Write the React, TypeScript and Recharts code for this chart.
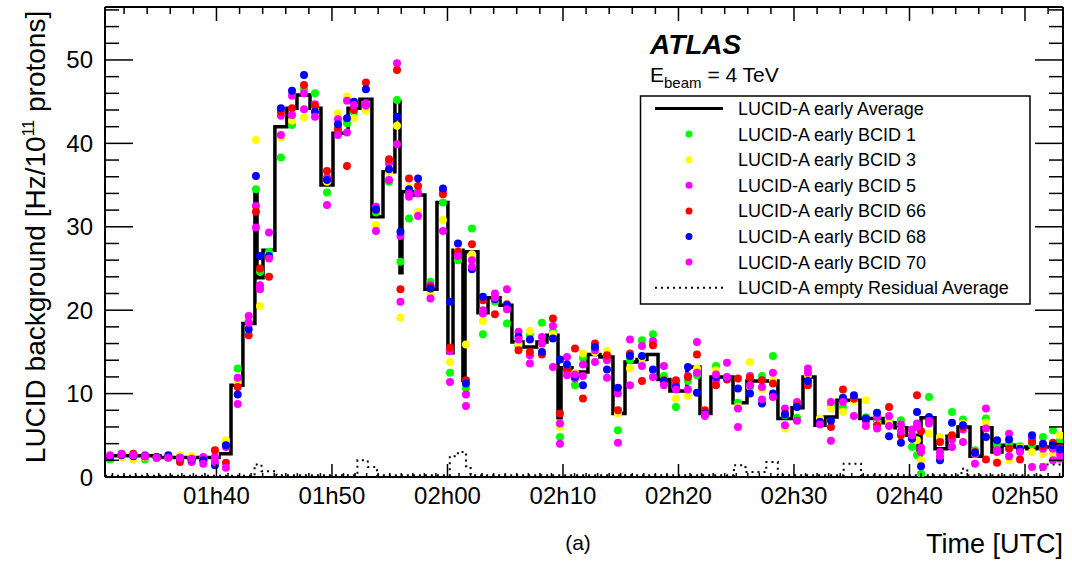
import React from 'react';
import { ComposedChart, Line, Scatter, XAxis, YAxis } from 'recharts';

// time axis in minutes after 01h00 UTC
const dotTimes = [
  30.78, 31.79, 32.8, 33.81, 34.82, 35.83, 36.84, 37.85, 38.86, 39.87,
  40.82, 41.84, 42.79, 43.42, 43.77, 44.55, 45.58, 46.54, 47.58, 48.53,
  49.57, 50.52, 51.3, 51.9, 52.94, 53.81, 54.94, 55.63, 55.93, 56.67,
  57.45, 58.53, 59.61, 60.22, 60.91, 61.6, 62.12, 63.07, 64.11, 65.15,
  66.15, 67.14, 68.18, 69.13, 69.74, 70.35, 71.04, 71.73, 72.77, 73.81,
  74.76, 75.8, 76.84, 77.79, 78.74, 79.78, 80.82, 81.6, 82.29, 83.25,
  84.2, 85.15, 86.19, 87.23, 88.18, 89.22, 90.26, 91.21, 92.25, 93.2,
  94.24, 95.19, 96.23, 97.19, 98.23, 99.26, 100.22, 100.65, 101.0, 101.69,
  102.64, 103.68, 104.63, 105.67, 106.62, 107.58, 108.62, 109.57, 110.61, 111.56,
  112.42, 113.03,
];

const bcid1 = [
  2.1, 2.5, 2.4, 2.1, 2.3, 2.3, 2.5, 2.2, 2.2, 3.1,
  3.9, 13.0, 18.8, 34.5, 24.6, 27.0, 38.3, 42.2, 46.5, 46.0,
  34.1, 42.1, 42.4, 43.7, 44.5, 31.7, 35.4, 45.2, 25.8, 31.0,
  34.3, 23.4, 32.9, 12.5, 26.0, 10.6, 29.8, 17.1, 21.0, 18.4,
  15.7, 17.0, 18.5, 17.4, 4.8, 13.2, 11.0, 14.3, 15.3, 14.5,
  5.6, 14.0, 16.4, 17.1, 12.1, 8.4, 11.5, 12.2, 7.7, 13.3,
  12.0, 8.9, 10.8, 12.1, 14.5, 7.4, 7.1, 11.4, 6.8, 8.6,
  8.4, 9.6, 7.15, 6.6, 6.6, 6.8, 3.6, 2.6, 0.4, 9.6,
  4.5, 7.8, 6.9, 3.2, 7.0, 4.0, 4.0, 3.7, 3.9, 4.8,
  5.6, 4.4,
];

const bcid3 = [
  2.4, 2.3, 2.1, 2.4, 2.3, 2.3, 2.6, 2.5, 2.2, 2.8,
  4.4, 11.4, 19.2, 40.4, 20.5, 26.3, 40.7, 42.7, 43.1, 44.1,
  35.4, 43.6, 45.6, 43.0, 43.9, 30.2, 36.5, 42.1, 19.1, 34.8,
  31.8, 22.1, 30.8, 13.8, 27.2, 15.9, 26.7, 18.7, 21.7, 20.4,
  16.0, 17.5, 15.8, 17.1, 6.0, 12.4, 12.5, 14.8, 15.0, 15.1,
  7.6, 13.0, 14.3, 16.0, 11.3, 9.4, 9.7, 13.0, 7.8, 12.8,
  11.8, 8.4, 13.8, 10.5, 11.6, 5.8, 8.75, 12.2, 7.0, 8.2,
  7.8, 9.1, 9.2, 6.3, 6.4, 5.7, 5.2, 4.4, 2.0, 5.2,
  4.8, 4.9, 6.4, 2.75, 6.5, 1.8, 2.0, 3.5, 3.0, 2.75,
  2.8, 5.0,
];

const bcid5 = [
  2.5, 2.8, 2.6, 2.6, 2.4, 2.4, 2.2, 1.8, 2.4, 2.4,
  3.6, 11.9, 19.3, 32.5, 23.0, 29.3, 43.3, 45.7, 46.0, 44.7,
  35.9, 42.9, 45.1, 44.9, 44.8, 32.4, 37.6, 49.6, 28.9, 33.6,
  34.0, 23.0, 34.3, 15.1, 26.7, 9.9, 26.0, 19.6, 22.0, 22.5,
  17.4, 14.6, 16.8, 18.1, 6.4, 14.4, 11.8, 13.5, 15.2, 14.0,
  10.0, 16.5, 15.7, 16.3, 13.3, 11.2, 12.1, 16.2, 7.3, 11.6,
  13.7, 8.2, 12.1, 10.8, 12.5, 8.2, 9.0, 13.0, 6.5, 9.0,
  9.4, 9.4, 6.7, 7.2, 7.3, 6.3, 5.7, 6.4, 3.5, 6.4,
  3.0, 4.5, 5.7, 2.8, 8.2, 3.0, 5.2, 3.15, 4.6, 3.4,
  3.4, 2.8,
];

const bcid66 = [
  2.4, 2.7, 2.8, 2.5, 2.3, 2.4, 1.8, 2.1, 2.0, 3.2,
  1.7, 10.8, 17.0, 31.8, 25.0, 24.0, 43.8, 44.2, 47.0, 44.5,
  36.7, 41.7, 37.3, 44.0, 47.3, 32.0, 38.1, 48.8, 22.5, 35.8,
  34.9, 22.8, 33.9, 15.5, 27.0, 11.6, 27.9, 21.2, 19.5, 20.7,
  15.2, 15.0, 14.7, 19.0, 7.6, 12.8, 15.4, 9.4, 16.0, 14.6,
  8.0, 14.8, 11.5, 15.8, 11.6, 11.6, 12.0, 14.7, 8.0, 11.0,
  11.7, 11.8, 11.9, 11.6, 11.2, 7.6, 8.5, 11.0, 6.6, 6.0,
  10.5, 9.4, 6.9, 6.2, 8.4, 5.0, 4.8, 9.8, 5.5, 7.0,
  4.2, 5.0, 6.0, 3.0, 2.1, 1.7, 3.4, 2.1, 4.2, 3.7,
  4.1, 3.6,
];

const bcid68 = [
  2.4, 2.6, 2.5, 2.5, 2.4, 2.6, 2.3, 2.1, 2.0, 1.4,
  3.8, 9.9, 17.7, 36.1, 26.5, 26.5, 44.2, 46.3, 48.2, 43.8,
  35.6, 42.3, 43.0, 45.0, 46.5, 32.1, 36.9, 43.2, 29.4, 34.5,
  35.8, 22.6, 34.6, 21.0, 28.0, 11.2, 24.9, 21.6, 21.3, 20.6,
  16.8, 16.5, 15.0, 16.6, 14.1, 13.5, 12.0, 11.0, 15.6, 12.9,
  10.7, 14.5, 14.5, 12.9, 11.5, 10.8, 13.2, 10.1, 7.6, 12.0,
  11.9, 10.6, 10.0, 8.8, 10.0, 7.5, 8.4, 11.5, 6.6, 6.75,
  9.5, 9.8, 7.0, 7.7, 4.9, 4.1, 4.6, 7.8, 1.3, 7.2,
  2.0, 6.5, 6.2, 2.9, 4.8, 4.4, 4.5, 3.4, 5.0, 4.0,
  3.8, 3.3,
];

const bcid70 = [
  2.6, 2.7, 2.6, 2.5, 2.3, 2.3, 2.3, 2.2, 1.6, 1.8,
  1.1, 8.75, 18.5, 29.9, 22.5, 26.2, 41.0, 43.4, 44.1, 43.2,
  32.6, 41.0, 41.3, 44.6, 44.5, 29.5, 35.6, 39.9, 21.0, 34.0,
  31.3, 21.4, 29.5, 11.4, 26.5, 8.5, 25.2, 20.0, 21.5, 20.1,
  16.5, 13.6, 16.0, 13.2, 4.0, 12.2, 12.3, 12.1, 13.8, 11.9,
  4.1, 11.0, 13.3, 12.0, 11.0, 10.5, 10.5, 12.5, 7.5, 12.3,
  12.0, 6.0, 11.0, 9.3, 9.6, 6.2, 6.75, 12.5, 6.3, 4.35,
  9.0, 7.3, 6.1, 5.8, 6.1, 5.5, 5.0, 6.0, 3.0, 6.7,
  2.5, 3.6, 4.2, 1.6, 5.8, 3.2, 2.5, 3.0, 1.2, 1.2,
  2.0, 2.2,
];

// early average histogram: bin edges (minutes) and contents
const avgEdges = [
  30.35, 35.11, 40.22, 41.26, 42.29, 43.33, 43.51, 44.03, 45.06, 46.1,
  46.97, 48.1, 49.05, 50.09, 51.39, 52.42, 53.46, 54.42, 55.45, 55.89,
  56.06, 57.1, 58.05, 59.09, 60.04, 60.48, 61.34, 61.52, 62.64, 63.51,
  64.55, 65.58, 66.54, 67.75, 68.61, 69.57, 69.83, 70.78, 72.16, 73.2,
  74.33, 75.37, 76.41, 77.27, 78.23, 79.26, 80.74, 81.86, 82.81, 84.72,
  85.93, 88.61, 89.83, 90.78, 91.82, 92.68, 93.72, 95.71, 97.71, 98.74,
  99.78, 100.74, 101.0, 102.21, 103.25, 104.2, 105.24, 106.28, 107.14, 108.01,
  109.13, 110.17, 111.04, 113.29,
];
const avgValues = [
  2.55, 2.35, 2.8, 11.0, 18.4, 34.0, 23.9, 27.2, 42.0, 44.2,
  45.8, 44.2, 35.0, 41.2, 44.2, 45.3, 31.2, 36.6, 45.0, 24.5,
  34.2, 33.8, 22.5, 32.9, 14.9, 27.2, 11.6, 27.0, 19.7, 21.5,
  20.6, 16.2, 15.6, 16.2, 17.0, 7.1, 13.1, 12.6, 14.7, 14.4,
  7.6, 13.8, 14.1, 14.7, 11.7, 10.3, 13.2, 7.6, 12.0, 8.9,
  11.5, 7.0, 8.3, 12.0, 6.2, 7.2, 9.2, 7.0, 6.5, 5.9,
  5.0, 2.4, 7.1, 3.4, 4.9, 6.0, 2.5, 5.9, 3.0, 3.8,
  3.6, 3.4, 3.6,
];

// empty-bunch residual average
const residEdges = [
  30.35, 43.3, 43.9, 45.2, 52.2, 53.1, 53.9, 60.2, 60.9, 61.6,
  62.0, 84.8, 85.8, 87.6, 88.6, 94.3, 95.8, 104.5, 105.0, 111.4,
  113.29,
];
const residValues = [
  0.15, 1.5, 0.7, 0.2, 2.0, 1.2, 0.2, 2.5, 3.0, 1.3,
  0.2, 1.4, 0.6, 1.8, 0.2, 1.6, 0.2, 1.0, 0.2, 1.5,
];

const xMajorTicks = [40, 50, 60, 70, 80, 90, 100, 110];
const xTickLabels = ['01h40', '01h50', '02h00', '02h10', '02h20', '02h30', '02h40', '02h50'];
const yMajorTicks = [0, 10, 20, 30, 40, 50];

const X_DOMAIN: [number, number] = [30.35, 113.29];
const Y_DOMAIN: [number, number] = [0, 56.35];
const FONT = '"Liberation Sans", Arial, Helvetica, sans-serif';

const xFine: number[] = [];
for (let t = 31; t <= 113; t++) xFine.push(t);
const xTop: number[] = [];
for (let t = 32; t <= 112; t += 2) xTop.push(t);
const yFine: number[] = [];
for (let v = 0; v <= 56; v += 2) yFine.push(v);

const stepData = (edges: number[], values: number[]) =>
  edges.map((t, i) => ({ t, v: values[Math.min(i, values.length - 1)] }));

const avgData = stepData(avgEdges, avgValues);
const residData = stepData(residEdges, residValues);

const series = [
  { name: 'LUCID-A early BCID 1', values: bcid1, color: '#00ff00' },
  { name: 'LUCID-A early BCID 3', values: bcid3, color: '#ffff00' },
  { name: 'LUCID-A early BCID 5', values: bcid5, color: '#ff00ff' },
  { name: 'LUCID-A early BCID 66', values: bcid66, color: '#ff0000' },
  { name: 'LUCID-A early BCID 68', values: bcid68, color: '#0000ff' },
  { name: 'LUCID-A early BCID 70', values: bcid70, color: '#ff00ff' },
];

const BottomTick = ({ x, y, payload }: any) => {
  const idx = xMajorTicks.indexOf(payload.value);
  const major = idx >= 0;
  return (
    <g>
      <line x1={x} x2={x} y1={y} y2={y - (major ? 13 : 4)} stroke="#000" strokeWidth={1.5} />
      {major && (
        <text x={x} y={y + 27} textAnchor="middle" fontSize={24} fill="#000" fontFamily={FONT}>
          {xTickLabels[idx]}
        </text>
      )}
    </g>
  );
};

const TopTick = ({ x, y, payload }: any) => {
  const major = payload.value % 10 === 0;
  return <line x1={x} x2={x} y1={y} y2={y + (major ? 14 : 7)} stroke="#000" strokeWidth={1.5} />;
};

const LeftTick = ({ x, y, payload }: any) => {
  const major = yMajorTicks.includes(payload.value);
  return (
    <g>
      <line x1={x} x2={x + (major ? 28 : 14)} y1={y} y2={y} stroke="#000" strokeWidth={1.5} />
      {major && (
        <text x={x - 12} y={y + 8.5} textAnchor="end" fontSize={24} fill="#000" fontFamily={FONT}>
          {payload.value}
        </text>
      )}
    </g>
  );
};

const RightTick = ({ x, y, payload }: any) => {
  const major = payload.value % 10 === 0;
  return <line x1={x} x2={x - (major ? 28 : 14)} y1={y} y2={y} stroke="#000" strokeWidth={1.5} />;
};

const legendRows = [108.5, 134.1, 159.7, 185.3, 210.9, 236.5, 262.1, 287.7];

export default function App() {
  const axisLine = { stroke: '#000', strokeWidth: 2 };
  return (
    <div
      style={{
        position: 'absolute',
        left: 0,
        top: 0,
        width: 1072,
        height: 561,
        background: '#fff',
        fontFamily: FONT,
      }}
    >
      <ComposedChart width={1072} height={561} margin={{ top: 6, right: 8, bottom: 0, left: 0 }}>
        <XAxis
          xAxisId="b"
          dataKey="t"
          type="number"
          domain={X_DOMAIN}
          allowDataOverflow
          ticks={xFine}
          interval={0}
          height={84}
          tickSize={0}
          tickMargin={0}
          tickLine={false}
          axisLine={axisLine}
          tick={(p: any) => <BottomTick {...p} />}
        />
        <XAxis
          xAxisId="top"
          dataKey="t"
          orientation="top"
          type="number"
          domain={X_DOMAIN}
          allowDataOverflow
          ticks={xTop}
          interval={0}
          height={1}
          tickSize={0}
          tickMargin={0}
          tickLine={false}
          axisLine={axisLine}
          tick={(p: any) => <TopTick {...p} />}
        />
        <YAxis
          yAxisId="l"
          dataKey="v"
          type="number"
          domain={Y_DOMAIN}
          allowDataOverflow
          ticks={yFine}
          interval={0}
          width={105}
          tickSize={0}
          tickMargin={0}
          tickLine={false}
          axisLine={axisLine}
          tick={(p: any) => <LeftTick {...p} />}
        />
        <YAxis
          yAxisId="r"
          dataKey="v"
          orientation="right"
          type="number"
          domain={Y_DOMAIN}
          allowDataOverflow
          ticks={yFine}
          interval={0}
          width={1}
          tickSize={0}
          tickMargin={0}
          tickLine={false}
          axisLine={axisLine}
          tick={(p: any) => <RightTick {...p} />}
        />

        {/* residual average is bound to the mirror axes (same domains) so they get drawn */}
        <Line
          xAxisId="top"
          yAxisId="r"
          data={residData}
          dataKey="v"
          type="stepAfter"
          stroke="#000"
          strokeWidth={2}
          strokeDasharray="2 4"
          dot={false}
          isAnimationActive={false}
        />
        <Line
          xAxisId="b"
          yAxisId="l"
          data={avgData}
          dataKey="v"
          type="stepAfter"
          stroke="#000"
          strokeWidth={3.5}
          dot={false}
          isAnimationActive={false}
        />
        {series.map((s) => (
          <Scatter
            key={s.name}
            xAxisId="b"
            yAxisId="l"
            name={s.name}
            data={dotTimes.map((t, i) => ({ t, v: s.values[i] }))}
            dataKey="v"
            isAnimationActive={false}
            shape={(p: any) => <circle cx={p.cx} cy={p.cy} r={4} fill={s.color} />}
          />
        ))}
      </ComposedChart>

      <svg
        width={1072}
        height={561}
        style={{ position: 'absolute', left: 0, top: 0, pointerEvents: 'none' }}
        fontFamily={FONT}
      >
        <text transform="rotate(-90)" x={-237} y={45} textAnchor="middle" fontSize={28} fill="#000">
          LUCID background [Hz/10
          <tspan fontSize={16} dy={-11}>11</tspan>
          <tspan dy={11}> protons]</tspan>
        </text>
        <text x={1063} y={553} textAnchor="end" fontSize={27} fill="#000">Time [UTC]</text>
        <text x={578} y={550} textAnchor="middle" fontSize={21} fill="#000">(a)</text>

        <text x={650} y={54} fontSize={28} fontWeight="bold" fontStyle="italic" fill="#000">ATLAS</text>
        <text x={650} y={82} fontSize={21} fill="#000">
          E<tspan fontSize={15} dy={6}>beam</tspan>
          <tspan dy={-6}> = 4 TeV</tspan>
        </text>

        <rect x={640.5} y={96} width={389.5} height={208} fill="#fff" stroke="#000" strokeWidth={1.5} />
        <line x1={655} x2={723} y1={legendRows[0]} y2={legendRows[0]} stroke="#000" strokeWidth={3} />
        <text x={738} y={legendRows[0] + 6.5} fontSize={18} fill="#000">LUCID-A early Average</text>
        {series.map((s, i) => (
          <g key={s.name}>
            <circle cx={689} cy={legendRows[i + 1]} r={3.5} fill={s.color} />
            <text x={738} y={legendRows[i + 1] + 6.5} fontSize={18} fill="#000">{s.name}</text>
          </g>
        ))}
        <line
          x1={655}
          x2={723}
          y1={legendRows[7]}
          y2={legendRows[7]}
          stroke="#000"
          strokeWidth={2}
          strokeDasharray="2 4"
        />
        <text x={738} y={legendRows[7] + 6.5} fontSize={18} fill="#000">LUCID-A empty Residual Average</text>
      </svg>
    </div>
  );
}
